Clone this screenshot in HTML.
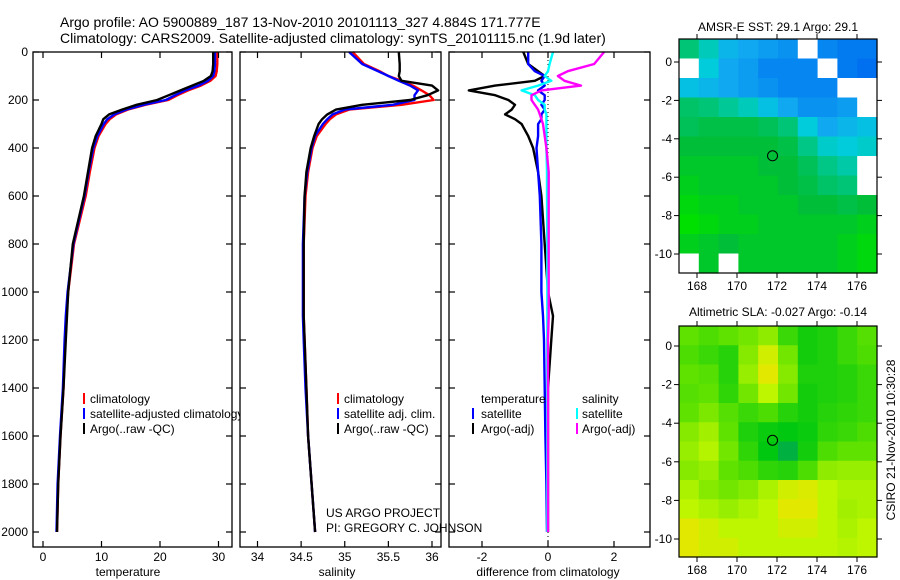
<!DOCTYPE html>
<html><head><meta charset="utf-8"><style>
html,body{margin:0;padding:0;background:#fff}
svg{display:block;font-family:"Liberation Sans",sans-serif}
</style></head><body>
<svg id="fig" width="900" height="580" viewBox="0 0 900 580" xmlns="http://www.w3.org/2000/svg">
<g id="plots"></g>
<g font-size="14" fill="#000">
<text x="60" y="27">Argo profile: AO 5900889_187 13-Nov-2010 20101113_327 4.884S 171.777E</text>
<text x="60" y="43">Climatology: CARS2009. Satellite-adjusted climatology: synTS_20101115.nc (1.9d later)</text>
</g>
<g font-size="12" fill="#000">
<text x="128" y="576" text-anchor="middle">temperature</text>
<text x="337" y="576" text-anchor="middle">salinity</text>
<text x="548" y="576" text-anchor="middle">difference from climatology</text>
<text x="778" y="31" text-anchor="middle">AMSR-E SST: 29.1 Argo: 29.1</text>
<text x="778" y="316" text-anchor="middle">Altimetric SLA: -0.027 Argo: -0.14</text>
<text transform="translate(895,440) rotate(-90)" text-anchor="middle">CSIRO 21-Nov-2010 10:30:28</text>
<text x="326" y="517">US ARGO PROJECT</text>
<text x="326" y="532">PI: GREGORY C. JOHNSON</text>
</g>
<g id="legends" font-size="12" fill="#000">
<g>
<rect x="83" y="393" width="2" height="11" fill="#f00"/><text x="90" y="403">climatology</text>
<rect x="83" y="408" width="2" height="11" fill="#00f"/><text x="90" y="418">satellite-adjusted climatology</text>
<rect x="83" y="423" width="2" height="11" fill="#000"/><text x="90" y="433">Argo(..raw -QC)</text>
</g>
</g>
<g id="overlay"></g>
</svg>
<script>
// ---------- profile data ----------
const depths = [0,50,80,100,120,140,160,180,200,220,240,260,280,300,350,400,500,600,800,1000,1100,1200,1400,1600,1800,2000];
const tempClim = [29.8,29.8,29.7,29.5,28.6,27,24.8,23,21.4,17.5,14.5,12.5,11.4,10.7,9.5,8.8,8.0,7.3,5.3,4.3,4.0,3.8,3.5,3.0,2.6,2.4];
const tempSat = [29.4,29.4,29.3,29.1,28.2,26.6,24.3,22.6,21.0,17.2,14.2,12.2,11.0,10.4,9.3,8.6,7.8,7.1,5.2,4.2,3.9,3.7,3.4,2.9,2.5,2.3];
const tempArgo = [29.1,29.1,29.0,28.7,27.5,25.5,23.5,21.5,19.5,16.0,13.5,11.3,10.3,10.0,9.0,8.4,7.7,7.0,5.1,4.3,4.1,3.9,3.5,3.0,2.6,2.4];
const salClim = [35.09,35.22,35.4,35.5,35.65,35.78,35.88,35.97,36.02,35.65,35.05,34.9,34.83,34.78,34.68,34.63,34.58,34.55,34.53,34.53,34.53,34.54,34.56,34.58,34.62,34.66];
const salSat = [35.05,35.2,35.38,35.5,35.62,35.75,35.84,35.8,35.8,35.55,35.0,34.86,34.8,34.75,34.66,34.62,34.57,34.54,34.52,34.52,34.52,34.53,34.55,34.58,34.62,34.66];
const salArgo = [35.62,35.63,35.63,35.62,35.65,36.0,36.07,35.95,35.75,35.2,34.9,34.8,34.74,34.70,34.65,34.61,34.56,34.54,34.53,34.53,34.53,34.54,34.56,34.58,34.62,34.66];
const tSatDiff = [-0.6,-0.6,-0.4,-0.1,-0.2,-0.1,-0.3,-0.1,-0.1,-0.2,-0.1,-0.2,-0.2,-0.3,-0.3,-0.35,-0.3,-0.25,-0.2,-0.2,-0.15,-0.12,-0.1,-0.08,-0.05,-0.03];
const tArgoDiff = [-0.75,-0.6,-0.3,-0.1,-0.4,-1.6,-2.4,-1.6,-1.2,-1.0,-1.1,-1.3,-1.0,-0.8,-0.6,-0.45,-0.3,-0.2,-0.1,0.0,0.15,0.1,0.0,0.0,0.0,0.0];
const sSatDiff = [0.15,0.05,0.0,-0.1,0.1,-0.3,-0.8,-0.4,-0.3,-0.1,-0.1,-0.05,-0.05,-0.05,-0.05,-0.05,-0.03,-0.03,-0.02,-0.02,-0.02,-0.02,-0.02,-0.02,-0.02,-0.02];
const sArgoDiff = [1.7,1.4,0.6,0.3,0.5,1.0,-0.2,-0.5,-0.5,-0.4,-0.3,-0.25,-0.2,-0.15,-0.1,-0.05,0.02,0.02,0.02,0.02,0.02,0,0,0,0,0];
const depthTicks = [0,200,400,600,800,1000,1200,1400,1600,1800,2000];
const tempTicks = [0,10,20,30];
const salTicks = [34,34.5,35,35.5,36];
const salTickLabels = ["34","34.5","35","35.5","36"];
const diffTicks = [-2,0,2];
// ---------- map data (rows lat 1..-11, cols lon 167..177); -1 = missing ----------
const sstGrid = [
[0.6,1.0,1.4,1.5,1.6,1.7,-1,1.8,1.9,1.9],
[-1,1.2,1.5,1.6,1.8,1.8,1.8,-1,1.9,2.0],
[1.3,1.4,1.5,1.6,1.7,1.8,1.8,1.8,-1,-1],
[0.5,0.6,0.8,1.0,1.3,1.5,1.7,1.7,1.6,-1],
[0.4,0.3,0.3,0.3,0.4,0.6,1.2,1.5,1.4,1.3],
[0.2,0.2,0.2,0.2,0.2,0.3,0.7,1.1,1.2,1.1],
[0.1,0.1,0.1,0.1,0.2,0.2,0.4,0.7,0.9,-1],
[0.0,0.1,0.1,0.1,0.1,0.2,0.3,0.5,0.6,-1],
[-0.1,0,0,0.1,0.1,0.1,0.2,0.2,0.3,0.2],
[-0.2,-0.1,0,0,0.1,0.1,0.1,0.1,0.1,0.0],
[0,0.1,0.2,0.1,0.1,0.1,0.1,0.1,0.0,-0.1],
[-1,0.1,-1,0.1,0.1,0.1,0.1,0.1,0,-0.1]];
const slaGrid = [
[1.0,0.8,1.0,1.2,1.5,0.6,0.2,0.3,0.6,0.9],
[0.8,0.6,0.4,1.4,2.2,1.2,0.2,0.3,0.6,0.8],
[1.0,0.9,0.4,1.6,2.4,1.4,0.3,0.3,0.4,0.6],
[0.9,1.0,0.5,1.2,2.0,1.2,0.2,0.3,0.4,0.6],
[1.0,1.3,0.9,0.6,0.8,0.4,0.2,0.4,0.5,0.6],
[1.4,1.7,1.0,0.3,0.1,0.0,0.1,0.5,0.6,0.8],
[1.6,1.9,1.2,0.5,0.0,-0.1,0.2,0.8,1.0,1.0],
[1.4,1.6,1.0,0.8,0.5,0.4,0.8,1.5,1.6,1.6],
[1.8,1.4,1.2,1.4,1.8,2.2,2.3,2.0,1.8,1.8],
[2.0,1.8,1.6,1.8,2.0,2.4,2.4,2.0,1.7,1.8],
[2.4,2.2,2.0,2.0,2.0,2.2,2.2,2.0,1.8,2.0],
[2.4,2.2,2.2,2.0,2.0,2.0,2.0,2.0,1.9,2.0]];
const lonTicks = [168,170,172,174,176];
const latTicks = [0,-2,-4,-6,-8,-10];
const floatLon = 171.777, floatLat = -4.884;

const NS = "http://www.w3.org/2000/svg";
const plots = document.getElementById('plots');
function mk(tag, attrs, parent){const e=document.createElementNS(NS,tag);for(const k in attrs)e.setAttribute(k,attrs[k]);(parent||plots).appendChild(e);return e;}

const yDepth = d => 52 + d*0.24;
const xTemp = t => 43 + t*5.85;
const xSal = s => 257.5 + (s-34)*87.25;
const xDiff = v => 548 + v*33;

function panel(name, x0, x1){
  const g = mk('g',{});
  
  
  mk('rect',{x:x0,y:52,width:x1-x0,height:495,fill:'#fff',stroke:'none'},g);
  return g;
}
function frame(g, x0, x1, xfun, ticks, labels, showDepthLabels){
  mk('rect',{x:x0,y:52,width:x1-x0,height:495,fill:'none',stroke:'#000','stroke-width':1.3},g);
  depthTicks.forEach(d=>{
    const y=yDepth(d);
    mk('line',{x1:x0,x2:x0+6,y1:y,y2:y,stroke:'#000','stroke-width':1.2},g);
    mk('line',{x1:x1-6,x2:x1,y1:y,y2:y,stroke:'#000','stroke-width':1.2},g);
    if(showDepthLabels){const t=mk('text',{x:28,y:y+4,'text-anchor':'end','font-size':12},g);t.textContent=d;
      
      }
  });
  ticks.forEach((v,i)=>{
    const x=xfun(v);
    mk('line',{x1:x,x2:x,y1:52,y2:58,stroke:'#000','stroke-width':1.2},g);
    mk('line',{x1:x,x2:x,y1:541,y2:547,stroke:'#000','stroke-width':1.2},g);
    const t=mk('text',{x:x,y:561,'text-anchor':'middle','font-size':12},g);t.textContent=labels[i];
    
    
  });
}
function line(g, xs, xfun, color, name, w){
  const p = xs.map((v,i)=>xfun(v).toFixed(1)+','+yDepth(depths[i]).toFixed(1)).join(' ');
  const el = mk('polyline',{points:p,fill:'none',stroke:color,'stroke-width':w||2.4,'stroke-linejoin':'round'},g);
  
  
}

const g1 = panel('temperature-panel',33,232);
line(g1,tempClim,xTemp,'#f00','temp-climatology-line');
line(g1,tempSat,xTemp,'#00f','temp-satellite-line');
line(g1,tempArgo,xTemp,'#000','temp-argo-line');
frame(g1,33,232,xTemp,tempTicks,tempTicks.map(String),true);
const legendsEl = document.getElementById('legends');
plots.appendChild(legendsEl);
const g2 = panel('salinity-panel',240,441);
line(g2,salClim,xSal,'#f00','sal-climatology-line');
line(g2,salSat,xSal,'#00f','sal-satellite-line');
line(g2,salArgo,xSal,'#000','sal-argo-line');
frame(g2,240,441,xSal,salTicks,salTickLabels,false);
const g3 = panel('difference-panel',449,650);
mk('line',{x1:xDiff(0),x2:xDiff(0),y1:52,y2:547,stroke:'#000','stroke-width':1,'stroke-dasharray':'1,3'},g3);
line(g3,tArgoDiff,xDiff,'#000','temp-argo-diff-line');
line(g3,tSatDiff,xDiff,'#00f','temp-satellite-diff-line');
line(g3,sSatDiff,xDiff,'#0ff','sal-satellite-diff-line');
line(g3,sArgoDiff,xDiff,'#f0f','sal-argo-diff-line');
frame(g3,449,650,xDiff,diffTicks,diffTicks.map(String),false);

const lg = mk('g',{'font-size':12});


const legItems = [
 [337,393,'#f00',344,'climatology'],[337,408,'#00f',344,'satellite adj. clim.'],[337,423,'#000',344,'Argo(..raw -QC)'],
 [null,393,null,481,'temperature'],[null,393,null,582,'salinity'],
 [472,408,'#00f',481,'satellite'],[472,423,'#000',481,'Argo(-adj)'],
 [576,408,'#0ff',582,'satellite'],[576,423,'#f0f',582,'Argo(-adj)']];
legItems.forEach(it=>{
  if(it[0]!==null) mk('rect',{x:it[0],y:it[1],width:2,height:11,fill:it[2]},lg);
  const t=mk('text',{x:it[3],y:it[1]+10},lg); t.textContent=it[4];
  
  
});

function lerpColor(stops, v){
  if(v<=stops[0][0]) return stops[0][1];
  for(let i=1;i<stops.length;i++){
    if(v<=stops[i][0]){
      const a=stops[i-1],b=stops[i],f=(v-a[0])/(b[0]-a[0]);
      return a[1].map((x,k)=>Math.round(x+(b[1][k]-x)*f));
    }
  }
  return stops[stops.length-1][1];
}
const sstStops = [[-0.2,[0,224,0]],[0.2,[0,190,56]],[0.8,[0,200,150]],[1.2,[0,204,220]],[1.5,[16,168,240]],[2.0,[0,112,240]]];
const slaStops = [[-0.1,[0,176,64]],[0,[0,200,16]],[1,[96,226,0]],[2,[190,246,0]],[2.5,[236,228,0]]];
function drawMap(name, grid, stops, x0, y0, x1, y1, lat0px, latScale){
  const g = mk('g',{});
  
  
  const lonMin=167.1, lonMax=177.0;
  const xLon = l => x0 + (l-lonMin)*(x1-x0)/(lonMax-lonMin);
  const yLat = l => lat0px - l*latScale;
  const rows=grid.length, cols=grid[0].length, cw=(x1-x0)/cols, ch=(y1-y0)/rows;
  grid.forEach((row,r)=>row.forEach((v,c)=>{
    const col = v===-1 ? [255,255,255] : lerpColor(stops,v);
    const cell = mk('rect',{x:(x0+c*cw).toFixed(2),y:(y0+r*ch).toFixed(2),width:(cw+0.6).toFixed(2),height:(ch+0.6).toFixed(2),fill:'rgb('+col.join(',')+')'},g);
    
    
  }));
  mk('rect',{x:x0,y:y0,width:x1-x0,height:y1-y0,fill:'none',stroke:'#000','stroke-width':1.2},g);
  lonTicks.forEach(l=>{const x=xLon(l);
    mk('line',{x1:x,x2:x,y1:y0-5,y2:y0,stroke:'#000'},g);
    mk('line',{x1:x,x2:x,y1:y1,y2:y1+5,stroke:'#000'},g);
    const t=mk('text',{x:x,y:y1+17,'text-anchor':'middle','font-size':12},g);t.textContent=l;
    
    });
  latTicks.forEach(l=>{const y=yLat(l);
    mk('line',{x1:x0-5,x2:x0,y1:y,y2:y,stroke:'#000'},g);
    mk('line',{x1:x1,x2:x1+5,y1:y,y2:y,stroke:'#000'},g);
    const t=mk('text',{x:x0-7,y:y+4,'text-anchor':'end','font-size':12},g);t.textContent=l;
    
    });
  const m = mk('circle',{cx:xLon(floatLon),cy:yLat(floatLat),r:5,fill:'none',stroke:'#000','stroke-width':1},g);
  
  
}
drawMap('sst-map', sstGrid, sstStops, 679, 39, 877, 273, 62, 19.2);
drawMap('sla-map', slaGrid, slaStops, 679, 326, 877, 557, 346, 19.3);
</script>
</body></html>
